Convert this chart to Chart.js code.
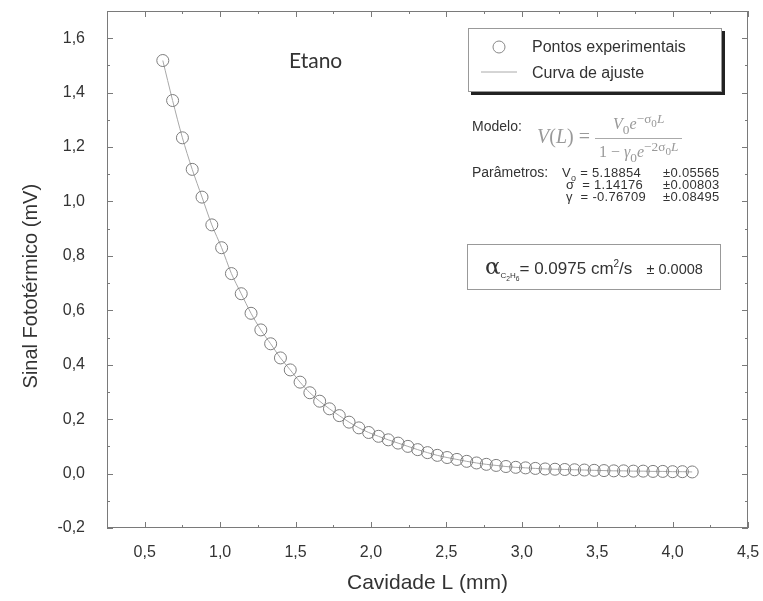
<!DOCTYPE html>
<html>
<head>
<meta charset="utf-8">
<script src="https://cdn.jsdelivr.net/npm/chart.js@4.4.1/dist/chart.umd.min.js"></script>
<style>
  html, body { margin: 0; padding: 0; background: #fff; }
  #wrap { position: relative; width: 763px; height: 601px; font-family: "Liberation Sans", Arial, sans-serif; color: #333; }
  #chart { position: absolute; left: 0; top: 0; }
  .abs { position: absolute; white-space: nowrap; }
  #etano { left: 289px; top: 47px; font-family: Lato, "Open Sans", sans-serif; font-size: 21px; color: #333; }
  #legend { left: 468px; top: 28px; width: 252px; height: 62px; border: 1px solid #999; box-shadow: 3px 3px 0 #222; background: #fff; }
  #legend .sym { position: absolute; }
  #legend .txt { position: absolute; left: 63px; font-size: 16px; line-height: 18px; }
  .lbl { font-size: 14px; }
  .par { font-size: 13px; letter-spacing: 0.3px; }
  #formula { left: 537px; top: 111px; font-family: "Liberation Serif", "DejaVu Serif", serif; color: #999; font-size: 20px; }
  #formula .frac { display: inline-block; vertical-align: middle; text-align: center; font-size: 16px; }
  #formula .frac span { display: block; padding: 0 4px; }
  #formula .frac .num { border-bottom: 1px solid #aaa; }
  #alpha { left: 467px; top: 244px; width: 252px; height: 44px; border: 1px solid #999; }
  #alpha .t { position: absolute; left: 17px; top: 8px; font-size: 17px; }
</style>
</head>
<body>
<div id="wrap">
  <canvas id="chart" width="763" height="601"></canvas>

  <div id="etano" class="abs">Etano</div>

  <div id="legend" class="abs">
    <svg class="sym" style="left:21px;top:10px" width="18" height="18"><circle cx="9" cy="8" r="6" fill="none" stroke="#888" stroke-width="1"/></svg>
    <div class="txt" style="top:9px">Pontos experimentais</div>
    <svg class="sym" style="left:10px;top:40px" width="40" height="6"><line x1="2" y1="3" x2="38" y2="3" stroke="#aaa" stroke-width="1"/></svg>
    <div class="txt" style="top:35px">Curva de ajuste</div>
  </div>

  <div class="abs lbl" style="left:472px;top:118px">Modelo:</div>
  <div id="formula" class="abs">
    <i>V</i>(<i>L</i>) =
    <span class="frac">
      <span class="num"><i>V</i><sub>0</sub><i>e</i><sup>−σ<sub>0</sub><i>L</i></sup></span>
      <span>1 − <i>γ</i><sub>0</sub><i>e</i><sup>−2σ<sub>0</sub><i>L</i></sup></span>
    </span>
  </div>

  <div class="abs lbl" style="left:472px;top:164px">Parâmetros:</div>
  <div class="abs par" style="left:562px;top:165px">V<sub style="font-size:9px">o</sub> = 5.18854</div>
  <div class="abs par" style="left:566px;top:177px">σ&nbsp; = 1.14176</div>
  <div class="abs par" style="left:566px;top:189px">γ&nbsp; = -0.76709</div>
  <div class="abs par" style="left:663px;top:165px">±0.05565</div>
  <div class="abs par" style="left:663px;top:177px">±0.00803</div>
  <div class="abs par" style="left:663px;top:189px">±0.08495</div>

  <div id="alpha" class="abs">
    <div class="t"><span style="font-size:23px;font-family:'DejaVu Serif',serif">α</span><sub style="font-size:8px">C<sub>2</sub>H<sub>6</sub></sub>= 0.0975 cm<sup style="font-size:10px">2</sup>/s&nbsp;&nbsp; <span style="font-size:14.5px">± 0.0008</span></div>
  </div>
</div>

<script>
// ---------- data ----------
const cavidade = [0.62, 0.685, 0.75, 0.815, 0.88, 0.945, 1.01, 1.075, 1.14, 1.205,
  1.27, 1.335, 1.40, 1.465, 1.53, 1.595, 1.66, 1.725, 1.79, 1.855,
  1.92, 1.985, 2.05, 2.115, 2.18, 2.245, 2.31, 2.375, 2.44, 2.505,
  2.57, 2.635, 2.70, 2.765, 2.83, 2.895, 2.96, 3.025, 3.09, 3.155,
  3.22, 3.285, 3.35, 3.415, 3.48, 3.545, 3.61, 3.675, 3.74, 3.805,
  3.87, 3.935, 4.00, 4.065, 4.13]
const sinal = [1.518, 1.371, 1.234, 1.118, 1.016, 0.914, 0.830, 0.735, 0.661, 0.589,
  0.528, 0.477, 0.425, 0.381, 0.336, 0.297, 0.266, 0.238, 0.213, 0.189,
  0.168, 0.151, 0.137, 0.124, 0.112, 0.100, 0.088, 0.077, 0.067, 0.059,
  0.052, 0.045, 0.039, 0.034, 0.030, 0.026, 0.023, 0.021, 0.019, 0.017,
  0.016, 0.015, 0.014, 0.013, 0.012, 0.011, 0.010, 0.010, 0.009, 0.009,
  0.008, 0.008, 0.007, 0.007, 0.006]

const xTicks = [0.5, 1.0, 1.5, 2.0, 2.5, 3.0, 3.5, 4.0, 4.5]
const xMinor = [0.25, 0.75, 1.25, 1.75, 2.25, 2.75, 3.25, 3.75, 4.25]
const yTicks = [-0.2, 0.0, 0.2, 0.4, 0.6, 0.8, 1.0, 1.2, 1.4, 1.6]
const yMinor = [-0.1, 0.1, 0.3, 0.5, 0.7, 0.9, 1.1, 1.3, 1.5, 1.7]

const pts = cavidade.map((x, i) => ({x: x, y: sinal[i]}))
const virgula = v => v.toFixed(1).replace('.', ',')

// ------- frame box with inward ticks on all four sides -------
const frameTicks = {
  id: 'frameTicks',
  beforeDatasetsDraw(chart) {
    const {ctx, chartArea: a, scales: {x, y}} = chart
    ctx.save()
    ctx.strokeStyle = '#7a7a7a'
    ctx.lineWidth = 1
    ctx.strokeRect(a.left + 0.5, a.top + 0.5, a.right - a.left - 1, a.bottom - a.top - 1)
    ctx.beginPath()
    const tx = (v, len) => {
      const px = Math.round(x.getPixelForValue(v)) + 0.5
      ctx.moveTo(px, a.bottom); ctx.lineTo(px, a.bottom - len)
      ctx.moveTo(px, a.top); ctx.lineTo(px, a.top + len)
    }
    const ty = (v, len) => {
      const py = Math.round(y.getPixelForValue(v)) + 0.5
      ctx.moveTo(a.left, py); ctx.lineTo(a.left + len, py)
      ctx.moveTo(a.right, py); ctx.lineTo(a.right - len, py)
    }
    xTicks.forEach(v => tx(v, 6))
    xMinor.forEach(v => tx(v, 3))
    yTicks.forEach(v => ty(v, 6))
    yMinor.forEach(v => ty(v, 3))
    ctx.stroke()
    ctx.restore()
  }
}

new Chart(document.getElementById('chart'), {
  type: 'scatter',
  data: {
    datasets: [{
      label: 'Pontos experimentais',
      data: pts,
      pointRadius: 6,
      pointHoverRadius: 6,
      pointBorderWidth: 1,
      borderColor: '#7d7d7d',
      backgroundColor: 'rgba(255,255,255,0)',
      order: 1
    }, {
      label: 'Curva de ajuste',
      data: pts,
      showLine: true,
      pointRadius: 0,
      borderColor: '#a8a8a8',
      borderWidth: 1,
      tension: 0.3,
      order: 2
    }]
  },
  options: {
    responsive: false,
    animation: false,
    layout: { padding: { top: 11, right: 15, left: 0, bottom: 0 } },
    plugins: { legend: { display: false }, tooltip: { enabled: false } },
    scales: {
      x: {
        type: 'linear', min: 0.25, max: 4.5,
        grid: { display: false }, border: { display: false },
        afterBuildTicks: s => { s.ticks = xTicks.map(v => ({value: v})) },
        afterFit: s => { s.height = 73; s.paddingLeft = 0; s.paddingRight = 0 },
        ticks: { padding: 7, color: '#333', font: { family: 'Liberation Sans', size: 16 }, callback: v => virgula(v) },
        title: { display: true, text: 'Cavidade L (mm)', color: '#333', font: { family: 'Liberation Sans', size: 21 }, padding: { bottom: 5 } }
      },
      y: {
        type: 'linear', min: -0.2, max: 1.7,
        grid: { display: false }, border: { display: false },
        afterBuildTicks: s => { s.ticks = yTicks.map(v => ({value: v})) },
        afterFit: s => { s.width = 107; s.paddingTop = 0; s.paddingBottom = 0 },
        ticks: { padding: 14, color: '#333', font: { family: 'Liberation Sans', size: 16 }, callback: v => virgula(v) },
        title: { display: true, text: 'Sinal Fototérmico (mV)' + '\u00a0'.repeat(6), color: '#333', font: { family: 'Liberation Sans', size: 20 }, padding: { top: 19 } }
      }
    }
  },
  plugins: [frameTicks]
})
</script>
</body>
</html>
